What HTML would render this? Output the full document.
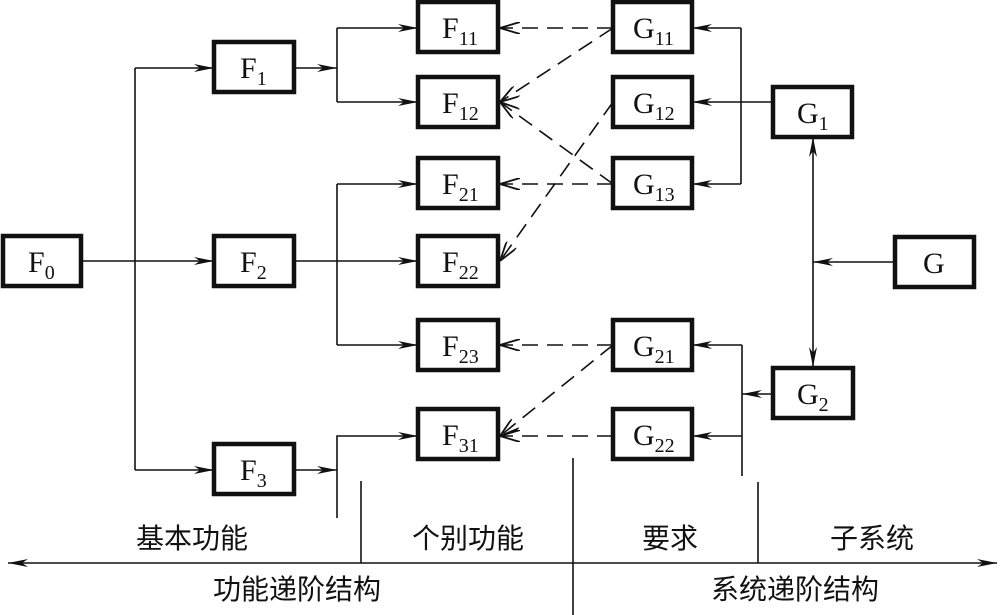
<!DOCTYPE html>
<html><head><meta charset="utf-8"><style>
html,body{margin:0;padding:0;background:#fff;}
svg{display:block;}
.b{fill:#fff;stroke:#111;stroke-width:4.5;}
.t{font-family:"Liberation Serif",serif;font-size:30px;fill:#111;}
.s{font-size:20px;}
.c{font-family:"Liberation Sans","Noto Sans CJK SC",sans-serif;font-size:28px;fill:#111;}
.l{stroke:#111;stroke-width:1.6;fill:none;}
.d{stroke:#111;stroke-width:1.6;fill:none;stroke-dasharray:16,9;}
</style></head><body>
<svg width="1005" height="615" viewBox="0 0 1005 615" xmlns="http://www.w3.org/2000/svg">
<defs>
<marker id="a" viewBox="0 0 20 10" refX="20" refY="5" markerWidth="20" markerHeight="10" markerUnits="userSpaceOnUse" orient="auto">
<path d="M0,1 L20,5 L0,9 L6,5 Z" fill="#111"/></marker>
<marker id="o" viewBox="0 0 20 12" refX="20" refY="6" markerWidth="20" markerHeight="12" markerUnits="userSpaceOnUse" orient="auto">
<path d="M0,0 L20,6 L0,12" fill="none" stroke="#111" stroke-width="1.8"/></marker>
<marker id="st" viewBox="0 0 20 10" refX="20" refY="5" markerWidth="20" markerHeight="10" markerUnits="userSpaceOnUse" orient="auto-start-reverse">
<path d="M0,1 L20,5 L0,9 L6,5 Z" fill="#111"/></marker>
</defs>
<!-- left tree -->
<path class="l" d="M81,261 H214" marker-end="url(#a)"/>
<path class="l" d="M135,470 V68"/>
<path class="l" d="M135,68 H214" marker-end="url(#a)"/>
<path class="l" d="M135,470 H214" marker-end="url(#a)"/>
<path class="l" d="M294,68 H337" marker-end="url(#a)"/>
<path class="l" d="M337,28 V102"/>
<path class="l" d="M337,28 H418" marker-end="url(#a)"/>
<path class="l" d="M337,102 H418" marker-end="url(#a)"/>
<path class="l" d="M294,261 H418" marker-end="url(#a)"/>
<path class="l" d="M337,184 V345"/>
<path class="l" d="M337,184 H418" marker-end="url(#a)"/>
<path class="l" d="M337,345 H418" marker-end="url(#a)"/>
<path class="l" d="M294,470 H337" marker-end="url(#a)"/>
<path class="l" d="M337,518 V436 H418" marker-end="url(#a)"/>
<!-- right tree -->
<path class="l" d="M741,28 V184"/>
<path class="l" d="M741,28 H692" marker-end="url(#a)"/>
<path class="l" d="M741,184 H692" marker-end="url(#a)"/>
<path class="l" d="M772,102 H692" marker-end="url(#a)"/>
<path class="l" d="M813,137 V367" marker-start="url(#st)" marker-end="url(#a)"/>
<path class="l" d="M894,262 H813" marker-end="url(#a)"/>
<path class="l" d="M742,345 V476"/>
<path class="l" d="M742,345 H692" marker-end="url(#a)"/>
<path class="l" d="M742,436 H692" marker-end="url(#a)"/>
<path class="l" d="M773,394 H742" marker-end="url(#a)"/>
<!-- dashed -->
<path class="d" d="M613,28 H500" marker-end="url(#o)"/>
<path class="d" d="M613,28 L500,102" marker-end="url(#o)"/>
<path class="d" d="M613,184 L500,102" marker-end="url(#o)"/>
<path class="d" d="M613,184 H500" marker-end="url(#o)"/>
<path class="d" d="M613,102 L500,261" marker-end="url(#o)"/>
<path class="d" d="M613,345 H500" marker-end="url(#o)"/>
<path class="d" d="M613,345 L500,436" marker-end="url(#o)"/>
<path class="d" d="M613,436 H500" marker-end="url(#o)"/>
<!-- boxes -->
<rect class="b" x="3" y="236" width="78" height="50"/><text class="t" x="28" y="272">F<tspan class="s" dy="7">0</tspan></text>
<rect class="b" x="214" y="42" width="80" height="50"/><text class="t" x="240" y="78">F<tspan class="s" dy="7">1</tspan></text>
<rect class="b" x="214" y="236" width="80" height="50"/><text class="t" x="240" y="272">F<tspan class="s" dy="7">2</tspan></text>
<rect class="b" x="214" y="444" width="80" height="50"/><text class="t" x="240" y="480">F<tspan class="s" dy="7">3</tspan></text>
<rect class="b" x="418" y="2" width="80" height="50"/><text class="t" x="442" y="38">F<tspan class="s" dy="7">11</tspan></text>
<rect class="b" x="418" y="77" width="80" height="50"/><text class="t" x="442" y="113">F<tspan class="s" dy="7">12</tspan></text>
<rect class="b" x="418" y="158" width="80" height="50"/><text class="t" x="442" y="194">F<tspan class="s" dy="7">21</tspan></text>
<rect class="b" x="418" y="236" width="80" height="50"/><text class="t" x="442" y="272">F<tspan class="s" dy="7">22</tspan></text>
<rect class="b" x="418" y="320" width="80" height="50"/><text class="t" x="442" y="356">F<tspan class="s" dy="7">23</tspan></text>
<rect class="b" x="418" y="409" width="80" height="50"/><text class="t" x="442" y="445">F<tspan class="s" dy="7">31</tspan></text>
<rect class="b" x="613" y="2" width="79" height="50"/><text class="t" x="633" y="38">G<tspan class="s" dy="7">11</tspan></text>
<rect class="b" x="613" y="77" width="79" height="50"/><text class="t" x="633" y="113">G<tspan class="s" dy="7">12</tspan></text>
<rect class="b" x="613" y="158" width="79" height="50"/><text class="t" x="633" y="194">G<tspan class="s" dy="7">13</tspan></text>
<rect class="b" x="613" y="320" width="79" height="50"/><text class="t" x="633" y="356">G<tspan class="s" dy="7">21</tspan></text>
<rect class="b" x="613" y="409" width="79" height="50"/><text class="t" x="633" y="445">G<tspan class="s" dy="7">22</tspan></text>
<rect class="b" x="773" y="87" width="79" height="50"/><text class="t" x="797" y="123">G<tspan class="s" dy="7">1</tspan></text>
<rect class="b" x="895" y="237" width="79" height="50"/><text class="t" x="923" y="273">G</text>
<rect class="b" x="773" y="368" width="80" height="50"/><text class="t" x="797" y="404">G<tspan class="s" dy="7">2</tspan></text>
<!-- bottom axis -->
<path class="l" d="M8,563 H997" stroke-width="2" marker-start="url(#st)" marker-end="url(#a)"/>
<path class="l" d="M573,458 V615" stroke-width="3.5"/>
<path class="l" d="M361,481 V563"/>
<path class="l" d="M758,482 V563"/>
<text class="c" x="192" y="548" text-anchor="middle">基本功能</text>
<text class="c" x="468" y="548" text-anchor="middle">个别功能</text>
<text class="c" x="670" y="548" text-anchor="middle">要求</text>
<text class="c" x="872" y="548" text-anchor="middle">子系统</text>
<text class="c" x="297" y="599" text-anchor="middle">功能递阶结构</text>
<text class="c" x="795" y="599" text-anchor="middle">系统递阶结构</text>
</svg>
</body></html>
